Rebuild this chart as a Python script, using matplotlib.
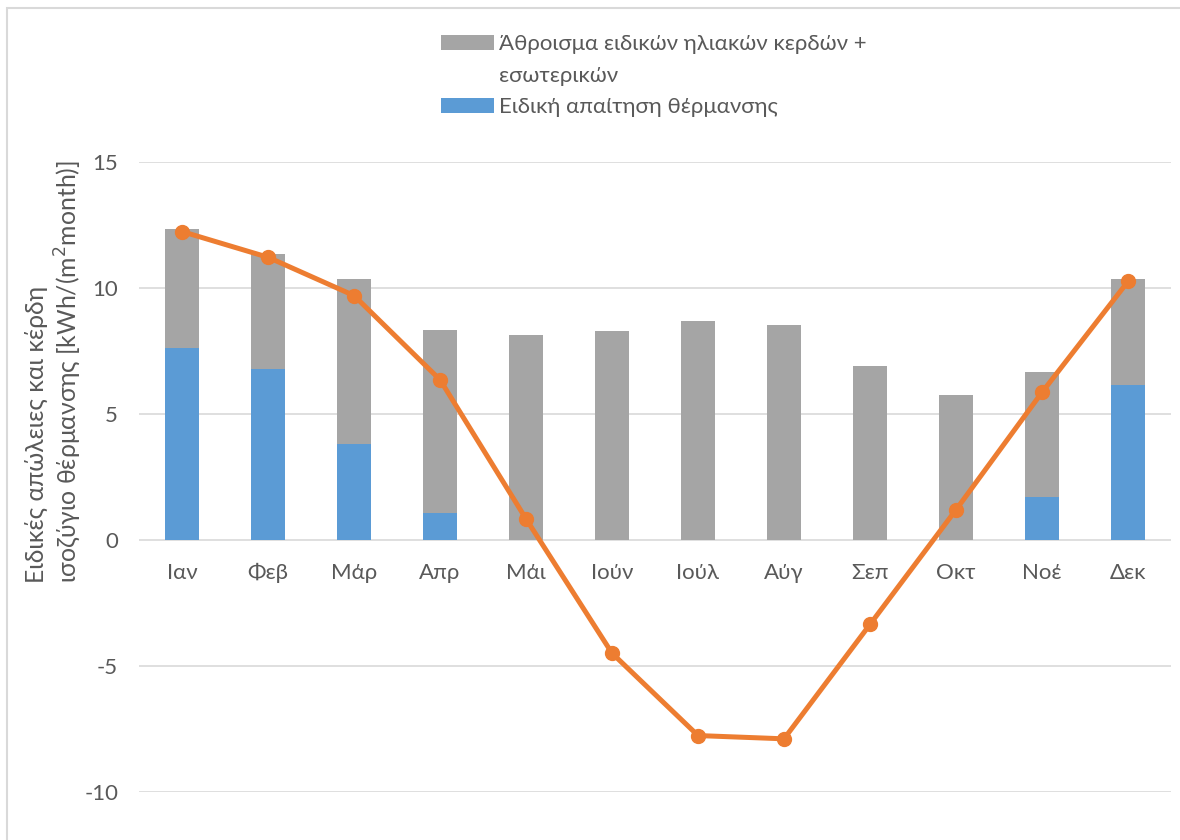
import matplotlib
matplotlib.use("Agg")
import matplotlib.pyplot as plt
from matplotlib.patches import Patch, Rectangle
import numpy as np

# Monthly values, kWh/(m²·month)
months = ["Ιαν", "Φεβ", "Μάρ", "Απρ", "Μάι", "Ιούν",
          "Ιούλ", "Αύγ", "Σεπ", "Οκτ", "Νοέ", "Δεκ"]
heating_demand = [7.63, 6.79, 3.82, 1.08, 0.0, 0.0, 0.0, 0.0, 0.0, 0.0, 1.70, 6.14]
gains = [4.70, 4.57, 6.55, 7.26, 8.15, 8.31, 8.70, 8.54, 6.92, 5.77, 4.97, 4.23]
balance = [12.24, 11.22, 9.70, 6.36, 0.84, -4.49, -7.76, -7.89, -3.35, 1.20, 5.86, 10.26]
y_ticks = [-10, -5, 0, 5, 10, 15]

label_gains = ["Άθροισμα ειδικών ηλιακών κερδών +", "εσωτερικών"]
label_demand = "Ειδική απαίτηση θέρμανσης"
y_title = "Ειδικές απώλειες και κέρδη\nισοζύγιο θέρμανσης [kWh/(m$^2$month)]"

plt.rcParams["font.family"] = ["Lato", "Noto Sans", "DejaVu Sans"]
text_color = "#595959"
grid_color = "#D9D9D9"
c_gray = "#A5A5A5"
c_blue = "#5B9BD5"
c_orange = "#ED7D31"

W, H = 1180, 840
fig = plt.figure(figsize=(W / 100, H / 100), dpi=100)
fig.patch.set_facecolor("white")

# outer chart-area frame
fig.add_artist(Rectangle((7 / W, -0.1), 1.2, 1.1 - 8 / H, transform=fig.transFigure,
                         fill=False, edgecolor=grid_color, linewidth=1.5))

ax = fig.add_axes([139 / W, 48 / H, 1032 / W, 630 / H])
x = np.arange(len(months))

ax.bar(x, heating_demand, width=0.4, color=c_blue, zorder=2)
ax.bar(x, gains, width=0.4, bottom=heating_demand, color=c_gray, zorder=2)
ax.plot(x, balance, color=c_orange, linewidth=3.6, marker="o", markersize=10, zorder=3)

ax.set_xlim(-0.5, len(months) - 0.5)
ax.set_ylim(y_ticks[0], y_ticks[-1])
ax.set_yticks(y_ticks)
ax.set_yticklabels([str(t) for t in y_ticks])
ax.tick_params(axis="y", length=0, pad=15, labelsize=16, labelcolor=text_color)
ax.set_xticks([])
for s in ax.spines.values():
    s.set_visible(False)
ax.yaxis.grid(True, color=grid_color, linewidth=1.2)
ax.set_axisbelow(True)

# category labels sit next to the zero line
for i, m in enumerate(months):
    ax.annotate(m, (i, 0), xytext=(0, -24), textcoords="offset points",
                ha="center", va="center", fontsize=16, color=text_color)

fig.text(54 / W, 1 - 372 / H, y_title, rotation=90, ha="center", va="center",
         multialignment="left", fontsize=17.8, color=text_color, linespacing=1.15)

# the wrapped gains label continues on a second row without its own swatch
handles = [Patch(facecolor=c_gray), Patch(facecolor="none", edgecolor="none"),
           Patch(facecolor=c_blue)]
leg = fig.legend(handles, [label_gains[0], label_gains[1], label_demand],
                 loc="upper left", bbox_to_anchor=(441 / W, 1 - 34 / H), frameon=False,
                 fontsize=16, handlelength=2.4, handleheight=0.65,
                 handletextpad=0.2, labelspacing=0.52, borderpad=0, borderaxespad=0)
for t in leg.get_texts():
    t.set_color(text_color)

fig.savefig("out.png", dpi=100)
